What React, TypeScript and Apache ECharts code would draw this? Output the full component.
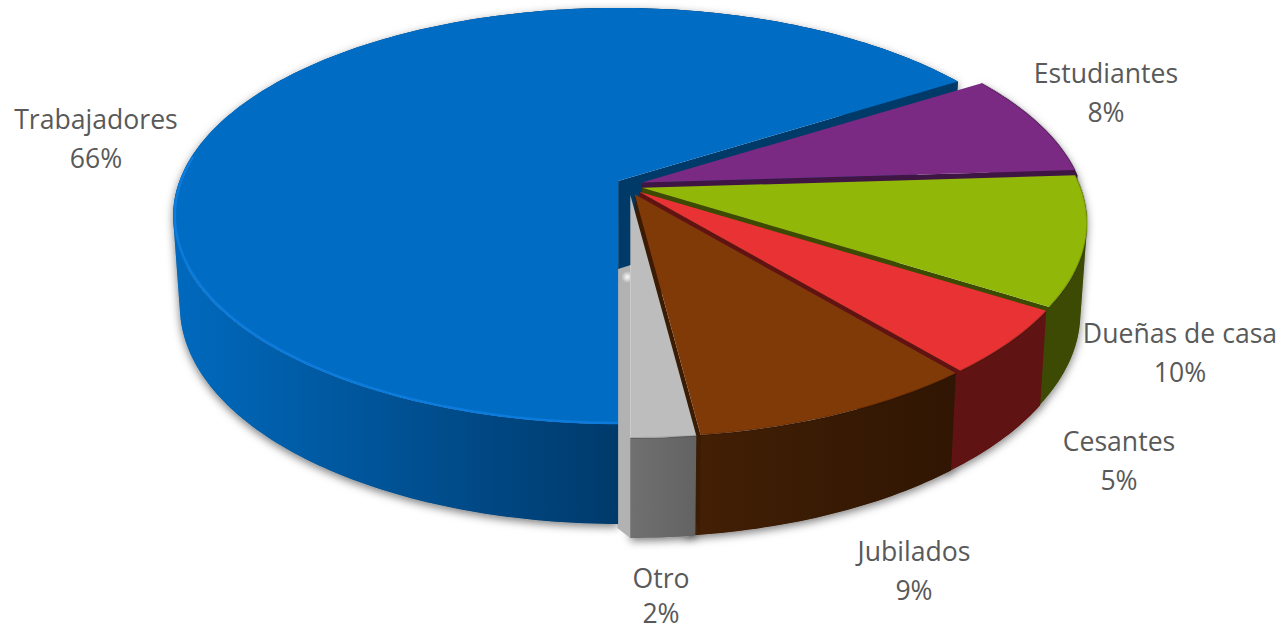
import React, { useEffect, useRef } from "react";
import * as echarts from "echarts";

const categories = ["Trabajadores", "Estudiantes", "Dueñas de casa", "Cesantes", "Jubilados", "Otro"];
const values = [66, 8, 10, 5, 9, 2];

const topColors = ["#006cc4", "#7b2a83", "#91b808", "#e83234", "#803a08", "#bdbdbd"];
const endWallColors = ["#003a68", "#3e1543", "#3c4a04", "#611313", "#3a1b04", "#6c6c6c"];
const outerStart = ["#0069bd", "#3e1543", "#3c4a04", "#611313", "#421f05", "#707070"];
const outerEnd = ["#003a6b", "#3e1543", "#3c4a04", "#5f1313", "#301603", "#636363"];
const nameCenters = [[96, 119], [1106, 73], [1180, 333], [1119, 441], [914, 551], [661, 578]];
const percentCenters = [[96, 158], [1106, 112], [1180, 372], [1119, 480], [914, 590], [661, 613]];

const START_DEG = 180;
const CX = 629.5, CY = 185.5;
const EXPLODE_X = 13, EXPLODE_Y = 9.5;
const FAR = 173, NEAR = 243, MAX_X = 445;
const B = 2 / (1 / NEAR + 1 / FAR);
const K = B / NEAR - 1;
const A = MAX_X * Math.sqrt(1 - K * K);
const BOTTOM_SCALE = 0.985;

const total = values.reduce((s, v) => s + v, 0);

function sliceAngles(i: number): [number, number] {
  const before = values.slice(0, i).reduce((s, v) => s + v, 0);
  return [START_DEG + (before / total) * 360, START_DEG + ((before + values[i]) / total) * 360];
}
function uv(deg: number): [number, number] {
  const r = (deg * Math.PI) / 180;
  return [Math.sin(r), -Math.cos(r)];
}
function apexOf(i: number): [number, number] {
  const [a0, a1] = sliceAngles(i);
  const [u, v] = uv((a0 + a1) / 2);
  return [CX + EXPLODE_X * u, CY + EXPLODE_Y * v];
}
function rimTop(apex: [number, number], deg: number): [number, number] {
  const [u, v] = uv(deg);
  const w = 1 + K * v;
  return [apex[0] + (A * u) / w, apex[1] + (B * v) / w];
}
function rimBottom(apex: [number, number], deg: number): [number, number] {
  const [u, v] = uv(deg);
  const w = 1 + K * v;
  return [apex[0] + (BOTTOM_SCALE * A * u) / w, apex[1] + (B * v) / w + 88 + 12 * v];
}
function arc(fn: (d: number) => [number, number], a0: number, a1: number) {
  const n = Math.max(2, Math.ceil(a1 - a0));
  const pts: [number, number][] = [];
  for (let j = 0; j <= n; j++) pts.push(fn(a0 + ((a1 - a0) * j) / n));
  return pts;
}
// Outer wall as one path of quads, all wound the same way, so the silhouette between the rims is filled.
function wallPath(topArc: [number, number][], botArc: [number, number][]) {
  let d = "";
  for (let j = 0; j < topArc.length - 1; j++) {
    const q = [topArc[j], topArc[j + 1], botArc[j + 1], botArc[j]];
    let area = 0;
    for (let m = 0; m < 4; m++) {
      const p = q[m], r = q[(m + 1) % 4];
      area += p[0] * r[1] - r[0] * p[1];
    }
    const o = area < 0 ? q.slice().reverse() : q;
    d += `M${o[0][0]} ${o[0][1]}L${o[1][0]} ${o[1][1]}L${o[2][0]} ${o[2][1]}L${o[3][0]} ${o[3][1]}Z`;
  }
  return d;
}

function renderSlice(params: any, api: any) {
  const i = params.dataIndex;
  api.value(0);
  const [a0, a1] = sliceAngles(i);
  const apex = apexOf(i);
  const top = (d: number) => rimTop(apex, d);
  const bot = (d: number) => rimBottom(apex, d);
  const topArc = arc(top, a0, a1);
  const botArc = arc(bot, a0, a1);
  const last = values.length - 1;
  // Walls of the middle slices run on under the next slice, so no gap shows between neighbours.
  const wallEnd = i > 0 && i < last ? a1 + 1.5 : a1;
  const pathData = wallPath(arc(top, a0, wallEnd), arc(bot, a0, wallEnd));
  const apexBottom: [number, number] = [apex[0], apex[1] + 88];
  const base = 10 + i * 10;
  const xs = botArc.filter((p) => p[1] > apex[1] + 60).map((p) => p[0]);
  const gradient = new echarts.graphic.LinearGradient(
    Math.min(...xs), 0, Math.max(...xs), 0,
    [{ offset: 0, color: outerStart[i] }, { offset: 1, color: outerEnd[i] }],
    true
  );
  const children: any[] = [
    {
      type: "path", z2: 0, silent: true, shape: { pathData },
      style: { fill: "#999", shadowBlur: 9, shadowColor: "rgba(0,0,0,0.5)", shadowOffsetY: 3 },
    },
    { type: "path", z2: base, silent: true, shape: { pathData }, style: { fill: gradient } },
    {
      type: "polygon", z2: base + 1, silent: true,
      shape: { points: [apex, top(a1), bot(a1), apexBottom] },
      style: { fill: i === last ? "#b2b2b2" : endWallColors[i] },
    },
    {
      type: "polygon", z2: base + 2, silent: true,
      shape: { points: [apex, ...topArc] },
      style: { fill: topColors[i] },
    },
  ];
  if (i === 0) {
    const inset = (p: [number, number]): [number, number] => [
      apex[0] + (p[0] - apex[0]) * 0.996,
      apex[1] + (p[1] - apex[1]) * 0.996,
    ];
    children.push({
      type: "polyline", z2: base + 3, silent: true,
      shape: { points: arc(top, a0, a0 + 97).map(inset) },
      style: { fill: "none", stroke: "#0c7bdb", lineWidth: 2.5 },
    });
  } else {
    children.push({
      type: "polyline", z2: base + 3, silent: true,
      shape: { points: topArc },
      style: { fill: "none", stroke: "rgba(0,0,0,0.13)", lineWidth: 2 },
    });
  }
  if (i === last) {
    const rimT = top(a1);
    const rimB = bot(a1);
    children.push({
      type: "polygon", z2: 1, silent: true,
      shape: {
        points: [apex, [apex[0] - 13, apexBottom[1] - 12], [rimB[0] - 13, rimB[1] - 10], rimB, rimT],
      },
      style: { fill: "#b2b2b2" },
    });
    children.push({
      type: "circle", z2: 2, silent: true,
      shape: { cx: apex[0] - 3, cy: apexBottom[1] - 6, r: 6 },
      style: {
        fill: new echarts.graphic.RadialGradient(0.5, 0.5, 0.5, [
          { offset: 0, color: "rgba(255,255,255,0.95)" },
          { offset: 1, color: "rgba(255,255,255,0)" },
        ]),
      },
    });
  }
  return { type: "group", children };
}

function labelText(text: string, pos: number[]) {
  return {
    type: "text",
    z: 100,
    silent: true,
    x: pos[0],
    y: pos[1],
    style: {
      text,
      fill: "#595959",
      font: '26.6px "Open Sans"',
      align: "center",
      verticalAlign: "middle",
    },
  };
}

export default function App() {
  const ref = useRef<HTMLDivElement>(null);
  useEffect(() => {
    const chart = echarts.init(ref.current!, undefined, { renderer: "svg" });
    chart.setOption({
      animation: false,
      backgroundColor: "#ffffff",
      graphic: [
        ...categories.map((name, i) => labelText(name, nameCenters[i])),
        ...values.map((v, i) => labelText(`${v}%`, percentCenters[i])),
      ],
      series: [
        {
          type: "custom",
          coordinateSystem: "none",
          silent: true,
          clip: false,
          renderItem: renderSlice,
          data: values.map((value, i) => ({ name: categories[i], value })),
        },
      ],
    });
    return () => chart.dispose();
  }, []);
  return <div ref={ref} style={{ position: "absolute", left: 0, top: 0, width: 1285, height: 632 }} />;
}
